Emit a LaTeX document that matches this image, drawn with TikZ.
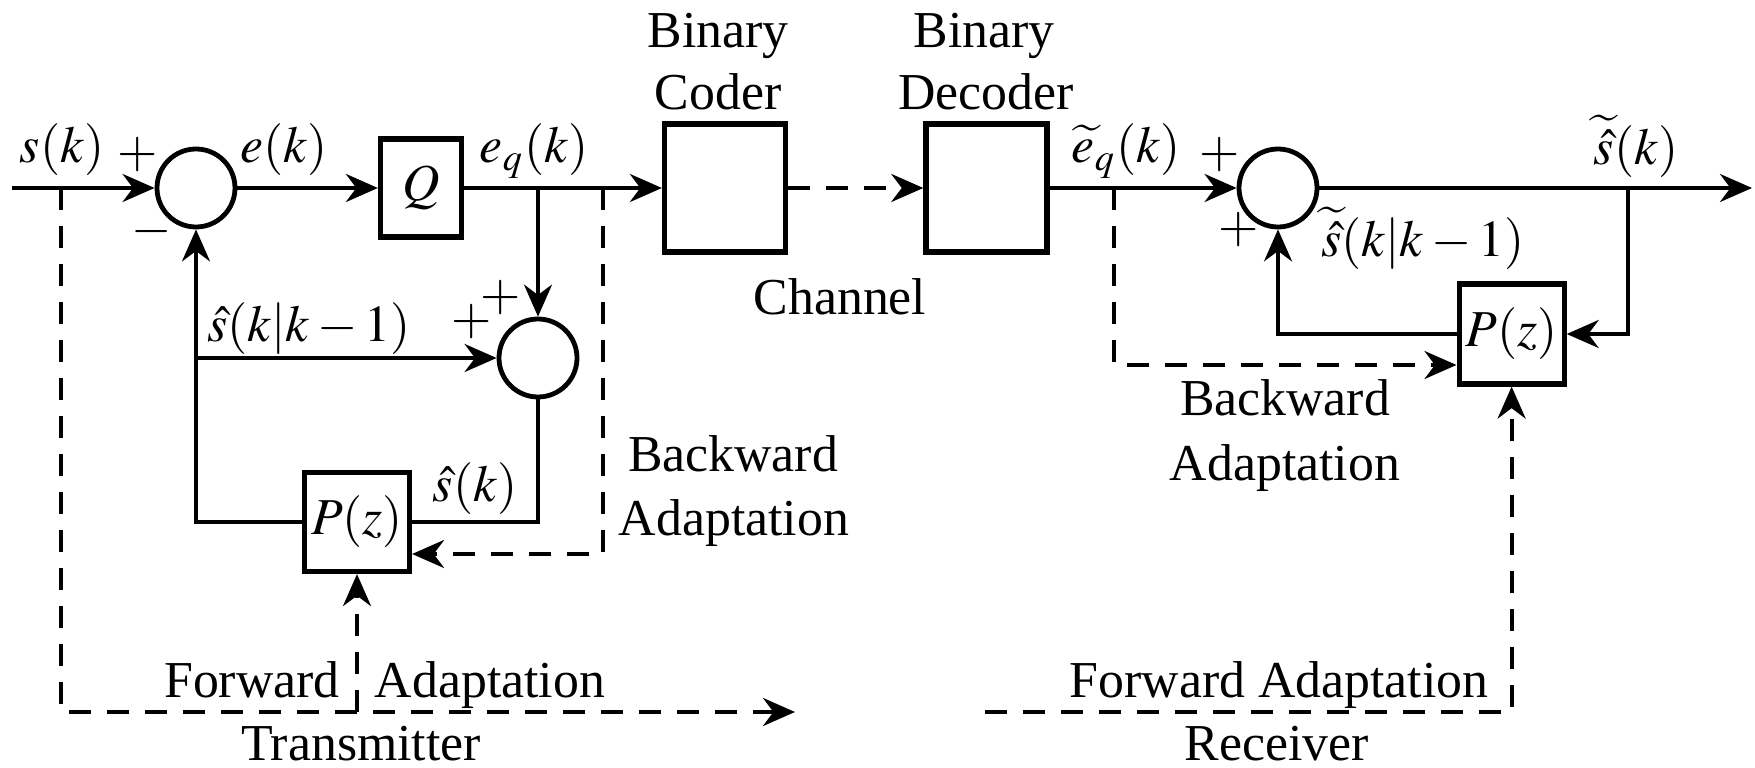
\documentclass[tikz,border=0pt]{standalone}
\usepackage{mathptmx}
\usepackage[no-math]{fontspec}
\setmainfont{Liberation Serif}
\usetikzlibrary{arrows.meta}

\begin{document}
\begin{tikzpicture}[>={Stealth[length=8bp,width=7bp]},line join=miter,line width=1bp,
  blk/.style={draw,line width=1.3bp,inner sep=0pt},
  sumnode/.style={draw,circle,line width=1.2bp,minimum size=19.5bp,inner sep=0pt},
  lbl/.style={inner sep=0pt,anchor=base},
  adapt/.style={dash pattern=on 5.5bp off 4bp},
  font=\fontsize{13}{16}\selectfont]
\useasboundingbox (0bp,0bp) rectangle (438.75bp,192bp);
%% transmitter
\coordinate (node_in) at (3bp,145bp);
\coordinate (node_tap_s) at (15.25bp,145bp);
\node (node_sum1) at (49bp,145bp) [sumnode] {};
\node (node_q) at (105.25bp,145bp) [blk,minimum width=20.25bp,minimum height=24.5bp] {$Q$};
\coordinate (node_tap_eq) at (134.5bp,145bp);
\coordinate (node_tap_bw) at (150.75bp,145bp);
\node (node_sum2) at (134.5bp,102.5bp) [sumnode] {};
\coordinate (node_br) at (49bp,102.5bp);
\node (node_pt) at (89.25bp,61.5bp) [blk,minimum width=26.25bp,minimum height=24.75bp] {$P(z)$};
\coordinate (node_bw_t) at (150.75bp,53.5bp);
\coordinate (node_fw_end) at (198.75bp,14bp);
%% channel
\node (node_coder) at (181.25bp,145bp) [blk,minimum width=30.25bp,minimum height=32bp] {};
\node (node_decoder) at (246.6bp,145bp) [blk,minimum width=30.25bp,minimum height=32bp] {};
%% receiver
\coordinate (node_tap_r) at (278.5bp,145bp);
\node (node_sum3) at (319.5bp,145bp) [sumnode] {};
\coordinate (node_tap_o) at (407bp,145bp);
\coordinate (node_out) at (438bp,145bp);
\node (node_pr) at (377.9bp,108.5bp) [blk,minimum width=26.25bp,minimum height=25bp] {$P(z)$};
\coordinate (node_bw_r) at (278.5bp,100.75bp);
\coordinate (node_fw_r) at (246.25bp,14bp);
%
\draw [->] (node_in) -- (node_sum1);
\draw [->] (node_sum1) -- (node_q);
\draw [->] (node_q) -- (node_coder);
\draw [->] (node_tap_eq) -- (node_sum2);
\draw [->] (node_br) -- (node_sum2);
\draw [->] (node_pt.west) -| (node_sum1.south);
\draw (node_sum2.south) |- (node_pt.east);
\draw [adapt,->] (node_tap_bw) -- (node_bw_t) -- (node_pt.east |- node_bw_t);
\draw [adapt,->] (node_tap_s) |- (node_fw_end);
\draw [adapt,->] (node_pt.south |- node_fw_end) -- (node_pt.south);
\draw [adapt,->] (node_coder) -- (node_decoder);
\draw [->] (node_decoder) -- (node_sum3);
\draw [->] (node_sum3) -- (node_out);
\draw [->] (node_tap_o) |- (node_pr.east);
\draw [->] (node_pr.west) -| (node_sum3.south);
\draw [adapt,->] (node_tap_r) -- (node_bw_r) -- (node_pr.west |- node_bw_r);
\draw [adapt,->] (node_fw_r) -| (node_pr.south);
%% labels
\node (node_l0) at (15.5bp,151.25bp) [lbl] {$s(k)$};
\node (node_l1) at (34.5bp,153.25bp) [inner sep=0pt] {$+$};
\node (node_l2) at (38bp,134bp) [inner sep=0pt] {$-$};
\node (node_l3) at (71bp,151.25bp) [lbl] {$e(k)$};
\node (node_l4) at (133.5bp,151.25bp) [lbl] {$e_q(k)$};
\node (node_l5) at (118bp,111.5bp) [inner sep=0pt] {$+$};
\node (node_l6) at (125.25bp,117.5bp) [inner sep=0pt] {$+$};
\node (node_l7) at (77.25bp,106.5bp) [lbl] {$\hat{s}(k|k-1)$};
\node (node_l8) at (118.75bp,66.5bp) [lbl] {$\hat{s}(k)$};
\node (node_l9) at (183.25bp,74bp) [lbl] {Backward};
\node (node_l10) at (183.5bp,58bp) [lbl] {Adaptation};
\node (node_l11) at (63bp,17.75bp) [lbl] {Forward};
\node (node_l12) at (122.5bp,17.75bp) [lbl] {Adaptation};
\node (node_l13) at (90.25bp,2bp) [lbl] {Transmitter};
\node (node_l14) at (179.5bp,180bp) [lbl] {Binary};
\node (node_l15) at (179.5bp,164.5bp) [lbl] {Coder};
\node (node_l16) at (246bp,180bp) [lbl] {Binary};
\node (node_l17) at (246.5bp,164.5bp) [lbl] {Decoder};
\node (node_l18) at (210bp,113.25bp) [lbl] {Channel};
\node (node_l19) at (281.5bp,151.25bp) [lbl] {$\widetilde{e}_q(k)$};
\node (node_l20) at (305bp,153.25bp) [inner sep=0pt] {$+$};
\node (node_l21) at (309.75bp,134.5bp) [inner sep=0pt] {$+$};
\node (node_l22) at (409bp,150.75bp) [lbl] {$\widetilde{\hat{s}}(k)$};
\node (node_l23) at (355.75bp,127.75bp) [lbl] {$\widetilde{\hat{s}}(k|k-1)$};
\node (node_l24) at (321.25bp,88bp) [lbl] {Backward};
\node (node_l25) at (321.25bp,71.75bp) [lbl] {Adaptation};
\node (node_l26) at (319.75bp,17.75bp) [lbl] {Forward Adaptation};
\node (node_l27) at (319.25bp,2bp) [lbl] {Receiver};
%
\end{tikzpicture}
\end{document}
